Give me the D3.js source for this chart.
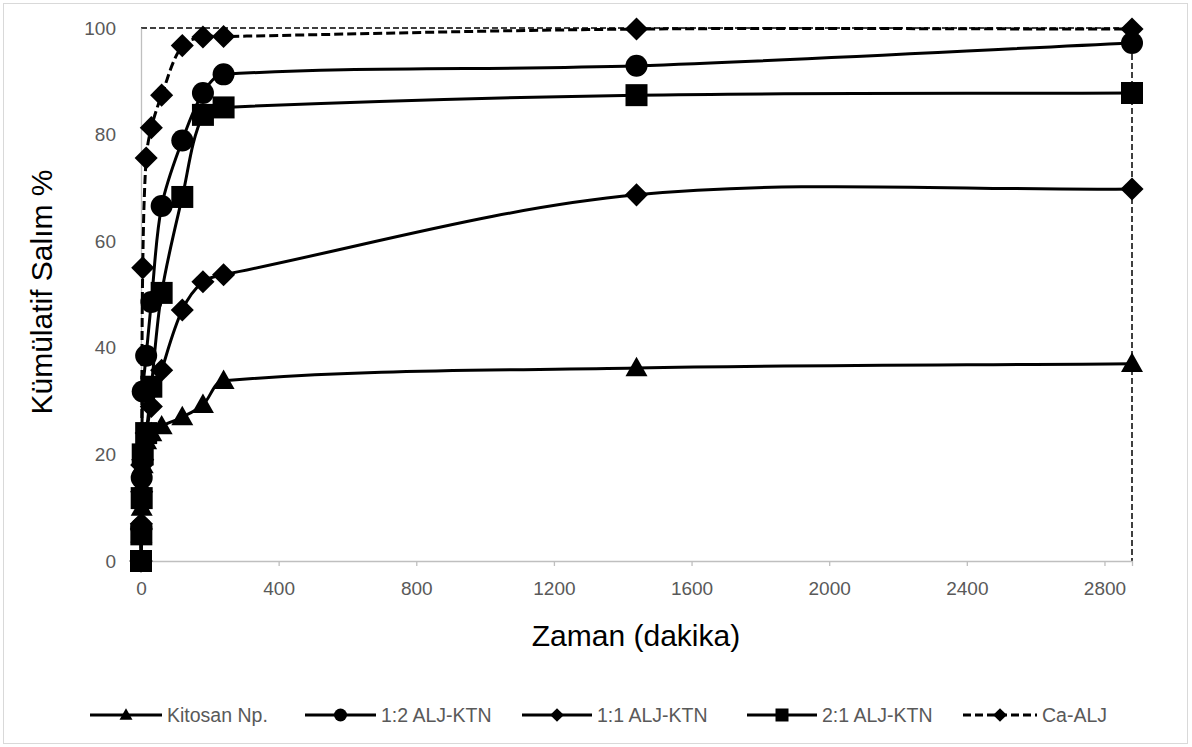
<!DOCTYPE html>
<html>
<head>
<meta charset="utf-8">
<script src="https://cdn.jsdelivr.net/npm/d3@7"></script>
<style>
  html, body { margin: 0; padding: 0; background: #fff; }
  svg { display: block; }
  text { font-family: "Liberation Sans", Arial, sans-serif; }
</style>
</head>
<body>
<svg id="chart" width="1192" height="747"></svg>
<script>
// ---- data ----
const times = [0, 1, 2, 5, 15, 30, 60, 120, 180, 240, 1440, 2880];
const kitosan = [0, 5, 10, 18, 22.5, 24, 25.3, 27, 29.3, 33.8, 36.2, 37];
const alj12 = [0, 6.2, 15.6, 31.8, 38.5, 48.6, 66.6, 78.9, 87.8, 91.3, 92.9, 97.2];
const alj11 = [0, 6, 13, 19, 24, 29, 35.8, 47.1, 52.4, 53.7, 68.7, 69.8];
const alj21 = [0, 5, 11.8, 20, 24, 32.7, 50.3, 68.3, 83.7, 85.1, 87.4, 87.8];
const caAlj = [0, 7, 18, 55, 75.6, 81.3, 87.4, 96.7, 98.3, 98.4, 99.8, 99.8];
const seriesNames = ["Kitosan Np.", "1:2 ALJ-KTN", "1:1 ALJ-KTN", "2:1 ALJ-KTN", "Ca-ALJ"];
const seriesMarkers = ["triangle", "circle", "diamond", "square", "diamond"];
const seriesDashed = [false, false, false, false, true];
const xTicks = [0, 400, 800, 1200, 1600, 2000, 2400, 2800];
const yTicks = [0, 20, 40, 60, 80, 100];
const xTitle = "Zaman (dakika)";
const yTitle = "Kümülatif Salım %";

const seriesValues = [kitosan, alj12, alj11, alj21, caAlj];

const svg = d3.select("#chart");
const W = 1192, H = 747;
const pLeft = 141, pRight = 1132, pTop = 28, pBottom = 561;

// outer border
svg.append("rect").attr("x", 3.5).attr("y", 3.5).attr("width", W - 8).attr("height", H - 7)
  .attr("fill", "#fff").attr("stroke", "#d9d9d9").attr("stroke-width", 1);

const x = d3.scaleLinear().domain([0, 2880]).range([pLeft, pRight]);
const y = d3.scaleLinear().domain([0, 100]).range([pBottom, pTop]);

// plot area dashed border (top and right)
svg.append("path")
  .attr("d", `M${pLeft},${pTop}H${pRight}V${pBottom}`)
  .attr("fill", "none").attr("stroke", "#000").attr("stroke-width", 1.5)
  .attr("stroke-dasharray", "6,3");

// axes
const xAxis = d3.axisBottom(x).tickValues(xTicks).tickSize(5).tickPadding(16).tickFormat(d3.format("d"));
const gx = svg.append("g").attr("transform", `translate(0,${pBottom})`).call(xAxis);
gx.select(".domain").attr("stroke", "#bfbfbf").attr("stroke-width", 1.3);
gx.selectAll(".tick line").attr("stroke", "#bfbfbf").attr("stroke-width", 1.3);
gx.selectAll(".tick text").attr("fill", "#595959").attr("font-size", 19)
  .attr("font-family", "Liberation Sans, Arial, sans-serif");

const yAxis = d3.axisLeft(y).tickValues(yTicks).tickSize(0).tickPadding(25).tickFormat(d3.format("d"));
const gy = svg.append("g").attr("transform", `translate(${pLeft},0)`).call(yAxis);
gy.select(".domain").attr("stroke", "#bfbfbf").attr("stroke-width", 1.3);
gy.selectAll(".tick text").attr("fill", "#595959").attr("font-size", 19)
  .attr("font-family", "Liberation Sans, Arial, sans-serif");

// titles
svg.append("text").attr("x", 636).attr("y", 646).attr("text-anchor", "middle")
  .attr("font-size", 30).attr("fill", "#000").text(xTitle);
svg.append("text").attr("transform", "translate(52,292) rotate(-90)").attr("text-anchor", "middle")
  .attr("font-size", 30).attr("fill", "#000").text(yTitle);

// marker path generator
function markerPath(type, s) {
  const h = s / 2;
  switch (type) {
    case "triangle": {
      const th = s * 0.88;
      return `M0,${-th * 0.58}L${h},${th * 0.42}L${-h},${th * 0.42}Z`;
    }
    case "circle":
      return `M${h},0A${h},${h} 0 1,1 ${-h},0A${h},${h} 0 1,1 ${h},0Z`;
    case "square":
      return `M${-h},${-h}H${h}V${h}H${-h}Z`;
    case "diamond": {
      const d = h * 1.05;
      return `M0,${-d}L${d},0L0,${d}L${-d},0Z`;
    }
  }
}

// Excel-like smoothing curve: tangent direction from neighbours,
// control-point distance = one third of the segment's own length.
function curveExcelSmooth(context) {
  let pts = [];
  return {
    areaStart() {}, areaEnd() {},
    lineStart() { pts = []; },
    point(px, py) { pts.push([+px, +py]); },
    lineEnd() {
      const n = pts.length;
      if (!n) return;
      context.moveTo(pts[0][0], pts[0][1]);
      if (n === 1) return;
      const tan = pts.map((p, i) => {
        const a = pts[Math.max(0, i - 1)], b = pts[Math.min(n - 1, i + 1)];
        const dx = b[0] - a[0], dy = b[1] - a[1];
        const l = Math.hypot(dx, dy) || 1;
        return [dx / l, dy / l];
      });
      for (let i = 0; i < n - 1; i++) {
        const p0 = pts[i], p1 = pts[i + 1];
        const L = Math.hypot(p1[0] - p0[0], p1[1] - p0[1]) / 3;
        context.bezierCurveTo(
          p0[0] + tan[i][0] * L, p0[1] + tan[i][1] * L,
          p1[0] - tan[i + 1][0] * L, p1[1] - tan[i + 1][1] * L,
          p1[0], p1[1]);
      }
    }
  };
}

const line = d3.line().x(d => x(d[0])).y(d => y(d[1])).curve(curveExcelSmooth);
const plot = svg.append("g");

seriesValues.forEach((vals, i) => {
  const pts = times.map((t, j) => [t, vals[j]]);
  const g = plot.append("g");
  g.append("path").datum(pts).attr("d", line)
    .attr("fill", "none").attr("stroke", "#000").attr("stroke-width", 3)
    .attr("stroke-dasharray", seriesDashed[i] ? "9,4" : null)
    .attr("stroke-linejoin", "round");
  g.selectAll("path.m").data(pts).join("path").attr("class", "m")
    .attr("transform", d => `translate(${x(d[0])},${y(d[1])})`)
    .attr("d", markerPath(seriesMarkers[i], 22))
    .attr("fill", "#000");
});

// legend
const legendItems = [
  { x0: 90, x1: 162, tx: 167 },
  { x0: 305, x1: 376, tx: 381 },
  { x0: 522, x1: 592, tx: 597 },
  { x0: 747, x1: 817, tx: 822 },
  { x0: 963, x1: 1037, tx: 1042 }
];
const ly = 715;
legendItems.forEach((it, i) => {
  const g = svg.append("g");
  g.append("line").attr("x1", it.x0).attr("x2", it.x1).attr("y1", ly).attr("y2", ly)
    .attr("stroke", "#000").attr("stroke-width", 3)
    .attr("stroke-dasharray", seriesDashed[i] ? "8,4" : null);
  g.append("path").attr("transform", `translate(${(it.x0 + it.x1) / 2},${ly})`)
    .attr("d", markerPath(seriesMarkers[i], 13)).attr("fill", "#000");
  g.append("text").attr("x", it.tx).attr("y", ly + 7).attr("font-size", 19.5)
    .attr("fill", "#595959").text(seriesNames[i]);
});
</script>
</body>
</html>
